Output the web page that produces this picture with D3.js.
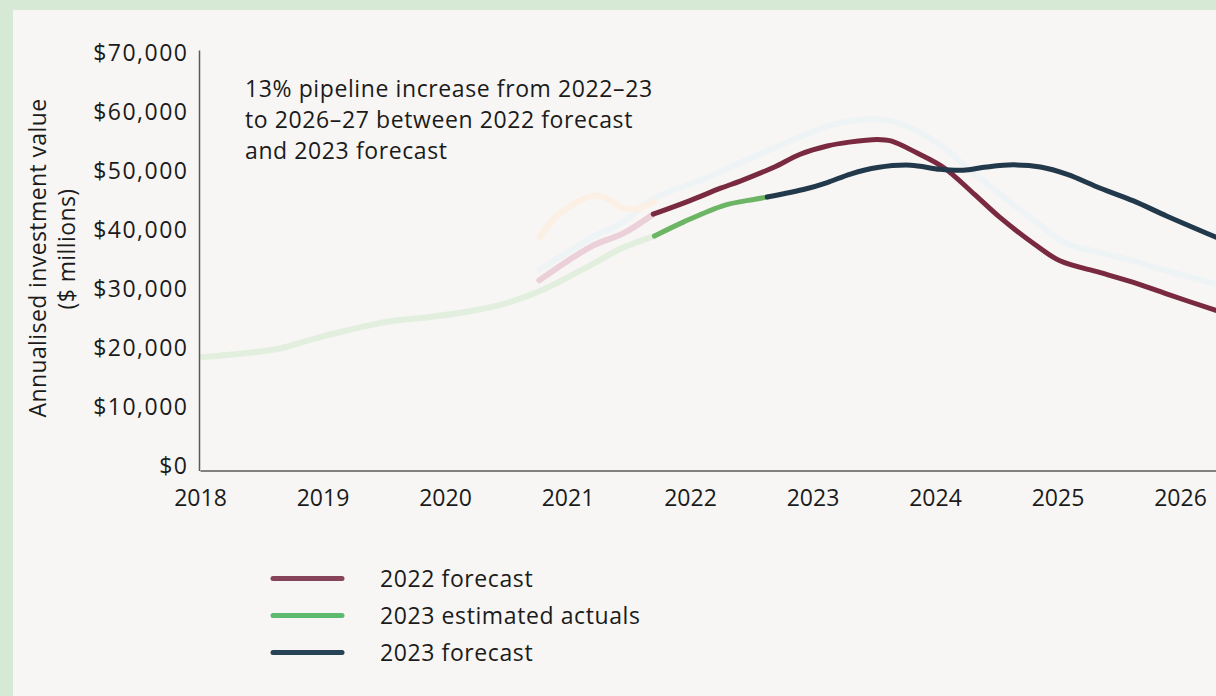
<!DOCTYPE html>
<html>
<head>
<meta charset="utf-8">
<script src="https://cdn.jsdelivr.net/npm/d3@7/dist/d3.min.js"></script>
<style>
  html, body { margin: 0; padding: 0; background: #d6e9d5; }
  svg { display: block; }
  text { font-family: "Open Sans", "Noto Sans", sans-serif; fill: #1b1b1b; }
</style>
</head>
<body>
<svg id="chart" width="1216" height="696"></svg>
<script>
// Annual tick labels and value ticks
const yearTicks = [2018, 2019, 2020, 2021, 2022, 2023, 2024, 2025, 2026];
const valueTicks = [0, 10000, 20000, 30000, 40000, 50000, 60000, 70000];

// Each series: [period (decimal year), annualised value $m]
const actuals2023History = [
  [2018.02, 19200], [2018.39, 19900], [2018.66, 20700], [2018.93, 22300],
  [2019.20, 23700], [2019.53, 25200], [2019.88, 26000], [2020.21, 27000],
  [2020.51, 28400], [2020.80, 30600], [2021.20, 34900], [2021.45, 37700],
  [2021.71, 39700]
];
const actuals2023 = [
  [2021.71, 39700], [2021.95, 42100], [2022.28, 44900], [2022.52, 45900],
  [2022.63, 46300]
];
const forecast2023 = [
  [2022.63, 46300], [2022.95, 47700], [2023.12, 48750], [2023.31, 50200],
  [2023.53, 51300], [2023.80, 51700], [2024.04, 51000], [2024.23, 50850],
  [2024.42, 51400], [2024.64, 51750], [2024.86, 51400], [2025.08, 50150],
  [2025.35, 47800], [2025.62, 45650], [2025.89, 43100], [2026.30, 39450]
];
const forecast2022History = [
  [2020.77, 32200], [2021.20, 38000], [2021.45, 40100], [2021.70, 43400]
];
const forecast2022 = [
  [2021.70, 43400], [2022.00, 45700], [2022.25, 47800], [2022.41, 49000],
  [2022.68, 51300], [2022.90, 53550], [2023.12, 54950], [2023.30, 55600],
  [2023.53, 56050], [2023.64, 55800], [2023.85, 53800], [2024.07, 51300],
  [2024.32, 46800], [2024.53, 42850], [2024.81, 38350], [2025.02, 35500],
  [2025.35, 33500], [2025.62, 31850], [2025.89, 29900], [2026.30, 27050]
];
const earlierForecastA = [
  [2020.77, 33950], [2021.20, 39450], [2021.45, 42000], [2021.69, 45900],
  [2022.14, 49600], [2022.41, 52100], [2022.82, 55800], [2023.17, 58600],
  [2023.50, 59470], [2023.66, 59070], [2023.85, 57500], [2024.07, 54700],
  [2024.26, 51300], [2024.53, 46800], [2024.81, 42300], [2025.08, 38350],
  [2025.35, 36900], [2025.62, 35500], [2025.89, 33800], [2026.30, 31550]
];
const earlierForecastB = [
  [2020.77, 39450], [2020.93, 43400], [2021.20, 46500], [2021.31, 46200],
  [2021.45, 44500], [2021.56, 44250], [2021.71, 45550]
];

const legendLabels = ["2022 forecast", "2023 estimated actuals", "2023 forecast"];
const legendColors = ["#87435a", "#5dba6e", "#274356"];

const annotationLines = [
  "13% pipeline increase from 2022\u201323",
  "to 2026\u201327 between 2022 forecast",
  "and 2023 forecast"
];

const FONT = 23;
const svg = d3.select("#chart");

// panel background
svg.append("rect")
  .attr("x", 13).attr("y", 10)
  .attr("width", 1216 - 13).attr("height", 696 - 10)
  .attr("fill", "#f7f6f4");

const x = d3.scaleLinear().domain([2018, 2026.3]).range([200, 200 + 8.3 * 122.5]);
const y = d3.scaleLinear().domain([0, 71200]).range([470.5, 50]);

const line = d3.line()
  .x(d => x(d[0]))
  .y(d => y(d[1]))
  .curve(d3.curveCatmullRom.alpha(0.5));

// series, faded context first
const series = [
  { data: actuals2023History, color: "#e2efdf", w: 6 },
  { data: earlierForecastA,   color: "#eef3f5", w: 6 },
  { data: forecast2022History, color: "#ecd0d9", w: 6 },
  { data: earlierForecastB,   color: "#fcefe3", w: 6 },
  { data: actuals2023,        color: "#6cb565", w: 5 },
  { data: forecast2022,       color: "#7a2a40", w: 5 },
  { data: forecast2023,       color: "#22384b", w: 5 }
];

svg.append("g").selectAll("path")
  .data(series)
  .join("path")
  .attr("d", d => line(d.data))
  .attr("fill", "none")
  .attr("stroke", d => d.color)
  .attr("stroke-width", d => d.w)
  .attr("stroke-linecap", "round")
  .attr("stroke-linejoin", "round");

// axes
const yAxis = svg.append("g")
  .attr("transform", `translate(${x(2018) - 1},0)`)
  .call(d3.axisLeft(y).tickValues(valueTicks).tickSize(0).tickPadding(10.5)
    .tickFormat(d => "$" + d3.format(",")(d)));
yAxis.select(".domain").attr("stroke", "#5a5a5a").attr("stroke-width", 1.5);
yAxis.selectAll(".tick text")
  .attr("font-size", FONT).attr("dy", 3).attr("fill", "#1b1b1b")
  .style("font-family", "'Open Sans', sans-serif")
  .style("letter-spacing", "1.5px");

const xAxis = svg.append("g")
  .attr("transform", `translate(0,${y(0)})`)
  .call(d3.axisBottom(x).tickValues(yearTicks).tickSize(0).tickPadding(19)
    .tickFormat(d3.format("d")));
xAxis.select(".domain").attr("stroke", "#5a5a5a").attr("stroke-width", 1.5);
xAxis.selectAll(".tick text")
  .attr("font-size", FONT).attr("fill", "#1b1b1b")
  .style("font-family", "'Open Sans', sans-serif");

// y-axis title
const yTitle = svg.append("text")
  .attr("transform", "translate(46,258) rotate(-90)")
  .attr("text-anchor", "middle")
  .attr("font-size", FONT)
  .style("letter-spacing", "0.4px");
yTitle.append("tspan").attr("x", 0).attr("y", 0).text("Annualised investment value");
yTitle.append("tspan").attr("x", 9).attr("y", 29).text("($ millions)");

// annotation
svg.append("g").selectAll("text")
  .data(annotationLines)
  .join("text")
  .attr("x", 245)
  .attr("y", (d, i) => 96.5 + i * 31.2)
  .attr("font-size", FONT)
  .style("letter-spacing", "0.6px")
  .text(d => d);

// legend
const legend = svg.append("g").selectAll("g")
  .data(legendLabels)
  .join("g")
  .attr("transform", (d, i) => `translate(0,${578.5 + i * 37})`);
legend.append("line")
  .attr("x1", 273).attr("x2", 342)
  .attr("stroke", (d, i) => legendColors[i])
  .attr("stroke-width", 5)
  .attr("stroke-linecap", "round");
legend.append("text")
  .attr("x", 380).attr("y", 8.5)
  .attr("font-size", FONT)
  .style("letter-spacing", "0.6px")
  .text(d => d);
</script>
</body>
</html>
